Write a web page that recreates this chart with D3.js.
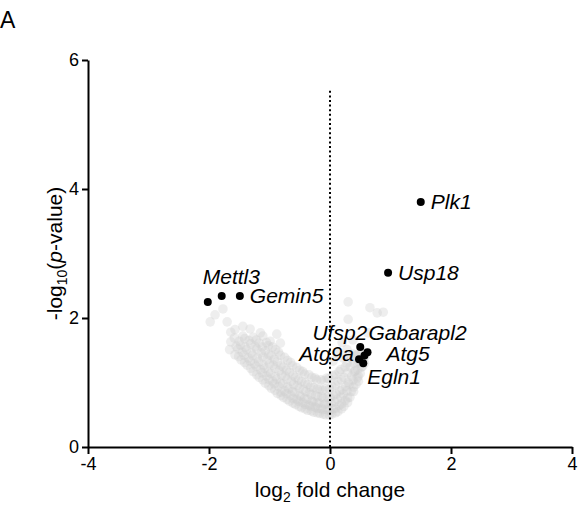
<!DOCTYPE html>
<html>
<head>
<meta charset="utf-8">
<script src="https://cdn.jsdelivr.net/npm/d3@7"></script>
<style>
  body { margin: 0; background: #fff; }
  text { font-family: "Liberation Sans", Arial, Helvetica, sans-serif; }
</style>
</head>
<body>
<script>
// tick values
const xTicks = [-4, -2, 0, 2, 4];
const yTicks = [0, 2, 4, 6];

// highlighted genes (log2 fold change, -log10 p)
const genes = ["Plk1", "Usp18", "", "Mettl3", "Gemin5", "Ufsp2", "Gabarapl2", "Atg5", "Atg9a", "Egln1"];
const geneFC = [1.50, 0.96, -2.02, -1.79, -1.49, 0.50, 0.62, 0.57, 0.48, 0.55];
const geneP = [3.80, 2.70, 2.25, 2.34, 2.34, 1.55, 1.47, 1.42, 1.36, 1.30];

// all other genes (grey cloud)
const cloud = [
  // sparse left
  [-1.98, 1.94], [-1.90, 2.05], [-1.77, 2.14], [-1.70, 1.94], [-1.64, 1.78], [-1.57, 1.82],
  [-1.44, 1.87], [-1.32, 1.83], [-0.99, 1.64], [-0.88, 1.75], [-0.82, 1.61], [-1.11, 1.72],
  // sparse right
  [0.30, 2.25], [0.66, 2.16], [0.78, 2.08], [0.88, 2.09], [0.30, 1.98], [0.63, 1.77],
  [0.20, 1.62], [0.38, 1.66], [0.12, 1.45], [0.28, 1.51], [0.05, 1.33], [0.22, 1.38],
  // band
  [-1.66, 1.51], [-1.64, 1.63],
  [-1.57, 1.43], [-1.55, 1.56], [-1.58, 1.69],
  [-1.47, 1.35], [-1.45, 1.47], [-1.48, 1.58], [-1.44, 1.72],
  [-1.37, 1.27], [-1.35, 1.38], [-1.38, 1.51], [-1.34, 1.65],
  [-1.27, 1.17], [-1.25, 1.29], [-1.28, 1.42], [-1.24, 1.56], [-1.27, 1.70],
  [-1.17, 1.08], [-1.15, 1.20], [-1.18, 1.32], [-1.14, 1.46], [-1.17, 1.61], [-1.15, 1.77],
  [-1.07, 0.99], [-1.05, 1.10], [-1.08, 1.22], [-1.04, 1.35], [-1.07, 1.49], [-1.05, 1.62],
  [-0.97, 0.91], [-0.95, 1.02], [-0.98, 1.14], [-0.94, 1.27], [-0.97, 1.42], [-0.95, 1.55],
  [-0.87, 0.83], [-0.85, 0.94], [-0.88, 1.05], [-0.84, 1.18], [-0.87, 1.32], [-0.85, 1.47],
  [-0.77, 0.77], [-0.75, 0.87], [-0.78, 0.98], [-0.74, 1.10], [-0.77, 1.24], [-0.75, 1.39],
  [-0.67, 0.71], [-0.65, 0.80], [-0.68, 0.90], [-0.64, 1.02], [-0.67, 1.16], [-0.65, 1.31],
  [-0.57, 0.66], [-0.55, 0.74], [-0.58, 0.84], [-0.54, 0.95], [-0.57, 1.08], [-0.55, 1.23],
  [-0.47, 0.61], [-0.45, 0.69], [-0.48, 0.78], [-0.44, 0.89], [-0.47, 1.02], [-0.45, 1.17],
  [-0.37, 0.57], [-0.35, 0.65], [-0.38, 0.74], [-0.34, 0.84], [-0.37, 0.97], [-0.35, 1.12],
  [-0.27, 0.54], [-0.25, 0.62], [-0.28, 0.70], [-0.24, 0.80], [-0.27, 0.92], [-0.25, 1.07],
  [-0.17, 0.52], [-0.15, 0.60], [-0.18, 0.68], [-0.14, 0.78], [-0.17, 0.90], [-0.15, 1.04],
  [-0.07, 0.50], [-0.05, 0.58], [-0.08, 0.67], [-0.04, 0.77], [-0.07, 0.90], [-0.05, 1.07],
  [0.03, 0.51], [0.05, 0.59], [0.02, 0.68], [0.06, 0.80], [0.03, 0.94], [0.05, 1.10],
  [0.13, 0.55], [0.15, 0.64], [0.12, 0.74], [0.16, 0.87], [0.13, 1.02], [0.15, 1.17],
  [0.23, 0.63], [0.25, 0.72], [0.22, 0.82], [0.26, 0.94], [0.23, 1.08], [0.25, 1.24],
  [0.33, 0.77], [0.35, 0.86], [0.32, 0.97], [0.36, 1.10], [0.33, 1.24], [0.35, 1.38],
  [0.43, 0.97], [0.45, 1.07], [0.42, 1.18], [0.46, 1.30], [0.43, 1.42],
  [0.50, 1.14], [0.52, 1.24], [0.49, 1.35], [0.53, 1.47],
  [0.57, 1.30], [0.58, 1.40],
  // band, in between
  [-1.51, 1.40], [-1.52, 1.52], [-1.50, 1.64],
  [-1.41, 1.31], [-1.42, 1.42], [-1.40, 1.55], [-1.41, 1.68],
  [-1.31, 1.22], [-1.32, 1.33], [-1.30, 1.46], [-1.31, 1.60],
  [-1.22, 1.25], [-1.20, 1.38], [-1.21, 1.52], [-1.22, 1.66],
  [-1.11, 1.04], [-1.12, 1.15], [-1.10, 1.27], [-1.11, 1.40], [-1.12, 1.55],
  [-1.01, 1.05], [-1.02, 1.16], [-1.00, 1.29], [-1.01, 1.43], [-1.02, 1.57],
  [-0.91, 0.88], [-0.92, 0.98], [-0.90, 1.09], [-0.91, 1.22], [-0.92, 1.36], [-0.90, 1.51],
  [-0.81, 0.85], [-0.82, 0.99], [-0.80, 1.12], [-0.81, 1.26], [-0.82, 1.42],
  [-0.71, 0.74], [-0.72, 0.83], [-0.70, 0.93], [-0.71, 1.05], [-0.72, 1.19], [-0.70, 1.34],
  [-0.61, 0.75], [-0.62, 0.86], [-0.60, 0.97], [-0.61, 1.11], [-0.62, 1.26],
  [-0.51, 0.63], [-0.52, 0.71], [-0.50, 0.80], [-0.51, 0.91], [-0.52, 1.04], [-0.50, 1.19],
  [-0.41, 0.66], [-0.42, 0.75], [-0.40, 0.86], [-0.41, 0.99], [-0.42, 1.13],
  [-0.31, 0.56], [-0.32, 0.63], [-0.30, 0.71], [-0.31, 0.81], [-0.32, 0.93], [-0.30, 1.08],
  [-0.21, 0.60], [-0.22, 0.68], [-0.20, 0.78], [-0.21, 0.90], [-0.22, 1.04],
  [-0.11, 0.51], [-0.12, 0.58], [-0.10, 0.66], [-0.11, 0.76], [-0.12, 0.88], [-0.10, 1.03],
  [-0.01, 0.57], [-0.02, 0.66], [0.00, 0.77], [-0.01, 0.90], [-0.02, 1.06],
  [0.09, 0.60], [0.08, 0.70], [0.10, 0.82], [0.09, 0.96], [0.08, 1.12],
  [0.19, 0.67], [0.18, 0.77], [0.20, 0.89], [0.19, 1.04], [0.18, 1.20],
  [0.29, 0.76], [0.28, 0.87], [0.30, 1.00], [0.29, 1.15], [0.28, 1.30],
  [0.39, 0.93], [0.38, 1.04], [0.40, 1.17], [0.39, 1.30], [0.38, 1.44],
  [0.47, 1.10], [0.46, 1.20], [0.48, 1.32], [0.47, 1.44],
  [0.54, 1.25], [0.55, 1.36],
  // extra near the lower edge
  [-1.21, 1.12], [-1.01, 0.95], [-0.81, 0.80], [-0.61, 0.68], [-0.41, 0.59], [-0.21, 0.53],
  [-0.01, 0.50], [0.09, 0.53], [0.19, 0.59], [0.29, 0.69], [0.39, 0.86], [0.47, 1.02]
];

const svg = d3.select("body").append("svg")
  .attr("width", 578)
  .attr("height", 511);

const x = d3.scaleLinear().domain([-4, 4]).range([88, 572]);
const y = d3.scaleLinear().domain([0, 6]).range([447, 60]);

// grey points
svg.append("g").selectAll("circle")
  .data(cloud)
  .enter()
  .append("circle")
  .attr("cx", d => x(d[0]))
  .attr("cy", d => y(d[1]))
  .attr("r", 4.8)
  .attr("fill", "#cdcdcd")
  .attr("fill-opacity", 0.35);

// dotted line at 0
svg.append("line")
  .attr("x1", x(0)).attr("x2", x(0))
  .attr("y1", y(0)).attr("y2", y(5.55))
  .attr("stroke", "#000")
  .attr("stroke-width", 2)
  .attr("stroke-dasharray", "2,2.6");

// axes
const xAxis = d3.axisBottom(x).tickValues(xTicks).tickSize(7).tickSizeOuter(0)
  .tickPadding(3).tickFormat(d => String(d));
const yAxis = d3.axisLeft(y).tickValues(yTicks).tickSize(6).tickSizeOuter(0)
  .tickPadding(3).tickFormat(d => String(d));

const gx = svg.append("g").attr("transform", `translate(0,${y(0)})`).call(xAxis);
const gy = svg.append("g").attr("transform", `translate(${x(-4)},0)`).call(yAxis);
[gx, gy].forEach(g => {
  g.selectAll("path, line").attr("stroke", "#000").attr("stroke-width", 2);
  g.selectAll("text").attr("fill", "#000").style("font-size", "18px");
});

// highlighted points
svg.append("g").selectAll("circle")
  .data(genes)
  .enter()
  .append("circle")
  .attr("cx", (d, i) => x(geneFC[i]))
  .attr("cy", (d, i) => y(geneP[i]))
  .attr("r", 4)
  .attr("fill", "#000");

// label offsets in pixels from each point
const off = {
  Plk1: [10, 7, "start"], Usp18: [10, 7, "start"], Mettl3: [-19, -12, "start"],
  Gemin5: [10, 7, "start"], Ufsp2: [7, -7, "end"], Gabarapl2: [1, -12, "start"],
  Atg5: [22, 6, "start"], Atg9a: [-5, 2, "end"], Egln1: [4, 21, "start"]
};
svg.append("g").selectAll("text")
  .data(genes.map((g, i) => ({ g, i })).filter(d => d.g))
  .enter()
  .append("text")
  .attr("x", d => x(geneFC[d.i]) + off[d.g][0])
  .attr("y", d => y(geneP[d.i]) + off[d.g][1])
  .attr("text-anchor", d => off[d.g][2])
  .style("font-size", "21px")
  .style("font-style", "italic")
  .text(d => d.g);

// x title
const xt = svg.append("text")
  .attr("x", x(0)).attr("y", 497)
  .attr("text-anchor", "middle")
  .style("font-size", "21px");
xt.append("tspan").text("log");
xt.append("tspan").attr("dy", 5).style("font-size", "14px").text("2");
xt.append("tspan").attr("dy", -5).text(" fold change");

// y title
const yt = svg.append("text")
  .attr("transform", `translate(62,${y(3)}) rotate(-90)`)
  .attr("text-anchor", "middle")
  .style("font-size", "21px");
yt.append("tspan").text("-log");
yt.append("tspan").attr("dy", 5).style("font-size", "14px").text("10");
yt.append("tspan").attr("dy", -5).text("(");
yt.append("tspan").style("font-style", "italic").text("p");
yt.append("tspan").text("-value)");

// panel letter
svg.append("text")
  .attr("x", 0).attr("y", 28)
  .style("font-size", "23px")
  .text("A");
</script>
</body>
</html>
